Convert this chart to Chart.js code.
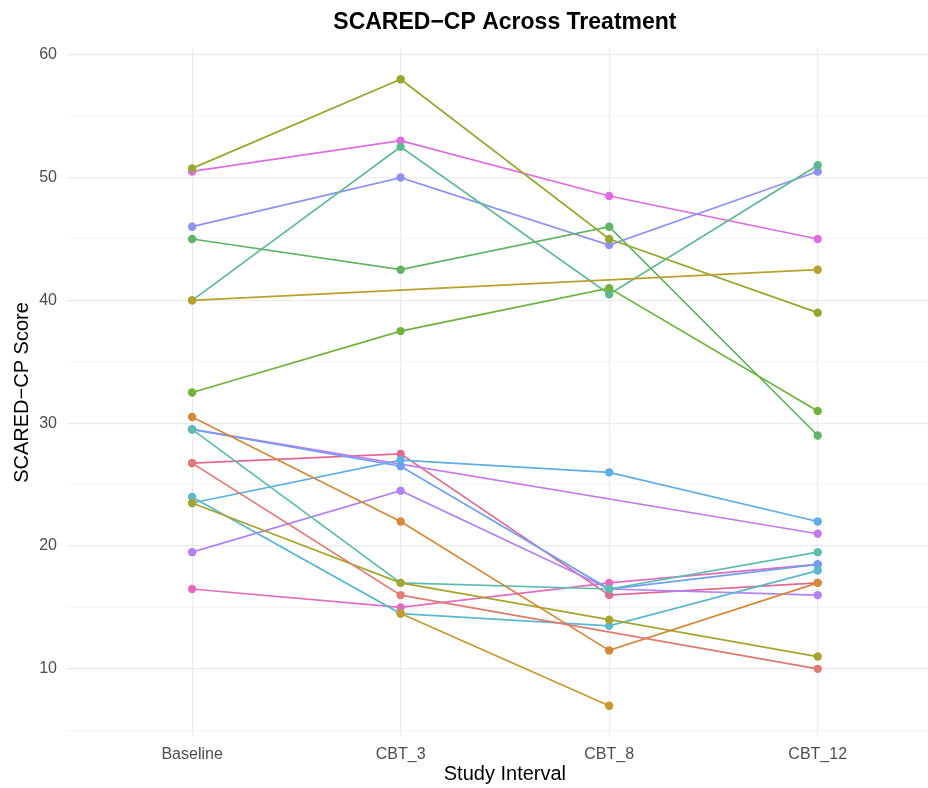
<!DOCTYPE html>
<html>
<head>
<meta charset="utf-8">
<title>SCARED-CP Across Treatment</title>
<script src="https://cdn.jsdelivr.net/npm/chart.js@4/dist/chart.umd.min.js"></script>
<style>
	html, body { margin: 0; padding: 0; background: #ffffff; overflow: hidden; }
	canvas { display: block; }
</style>
</head>
<body>
<canvas id="chart" width="947" height="788"></canvas>
<script>

// study intervals (x axis)
const intervals = ['Baseline', 'CBT_3', 'CBT_8', 'CBT_12'];

// one value per subject for each interval, null when missing
const baselineScores = [26.75, 30.5, null, 40, 23.5, 50.75, 32.5, 45, 40, 29.5, 24, 23.5, 29.5, 46, 19.5, 29.5, 50.5, 16.5, 26.75];
const cbt3Scores     = [16, 22, 14.5, null, 17, 58, 37.5, 42.5, 52.5, 17, 14.5, 27, 26.5, 50, 24.5, null, 53, 15, 27.5];
const cbt8Scores     = [null, 11.5, 7, null, 14, 45, 41, 46, 40.5, 16.5, 13.5, 26, 16.5, 44.5, 16.5, null, 48.5, 17, 16];
const cbt12Scores    = [10, 17, null, 42.5, 11, 39, 31, 29, 51, 19.5, 18, 22, 18.5, 50.5, 16, 21, 45, 18.5, 17];

const yTicks = [5, 10, 15, 20, 25, 30, 35, 40, 45, 50, 55, 60];

const subjectColors = [
	'#e17a72', '#d4883a', '#c8982c', '#b9a02a', '#a6a62e',
	'#93a92e', '#6db33c', '#5fb464', '#5fb98e', '#5cbcae',
	'#5ab8cf', '#5daee5', '#6f9ff2', '#8d92f4', '#b281f4',
	'#c977ec', '#df6be0', '#e36cc0', '#e06a8e'
];

const fontFamily = "'Liberation Sans', Arial, sans-serif";

class TreatmentChart {

	static create(target) {

		const columns = [baselineScores, cbt3Scores, cbt8Scores, cbt12Scores];

		let datasets = [];

		subjectColors.forEach((color, key) => {
			datasets[datasets.length] = {
				label: 'Subject ' + (key + 1),
				data: intervals.map((name, position) => ({x: position + 1, y: columns[position][key]})),
				borderColor: color,
				backgroundColor: color,
				pointBackgroundColor: color,
				pointBorderWidth: 0,
				pointRadius: 4.2,
				borderWidth: 1.7,
				spanGaps: true,
				tension: 0
			};
		});

		new Chart(target, {
			type: 'line',
			data: {
				datasets: datasets
			},
			options: {
				responsive: false,
				animation: {
					duration: 0
				},
				layout: {
					padding: 0
				},
				scales: {
					x: {
						type: 'linear',
						min: 0.4,
						max: 4.6,
						afterBuildTicks: function(axis) {
							axis.ticks = intervals.map((name, position) => ({value: position + 1}));
						},
						afterFit: function(axis) {
							axis.height = 51;
						},
						border: {
							display: false
						},
						grid: {
							color: '#ebebeb',
							lineWidth: 1.2,
							drawTicks: false
						},
						ticks: {
							color: '#4d4d4d',
							padding: 8,
							font: { family: fontFamily, size: 16 },
							callback: function(value) {
								return intervals[Math.round(value) - 1];
							}
						},
						title: {
							display: true,
							text: 'Study Interval',
							color: '#000000',
							padding: { top: 0, bottom: 2 },
							font: { family: fontFamily, size: 20 }
						}
					},
					y: {
						min: 4.45,
						max: 60.55,
						afterBuildTicks: function(axis) {
							axis.ticks = yTicks.map(value => ({value: value}));
						},
						afterFit: function(axis) {
							axis.width = 67;
						},
						border: {
							display: false
						},
						grid: {
							color: function(context) {
								return context.tick.value % 10 === 0 ? '#ebebeb' : '#f2f2f2';
							},
							lineWidth: function(context) {
								return context.tick.value % 10 === 0 ? 1.2 : 0.9;
							},
							drawTicks: false
						},
						ticks: {
							color: '#4d4d4d',
							padding: 10,
							font: { family: fontFamily, size: 16 },
							callback: function(value) {
								return value % 10 === 0 ? value : '';
							}
						},
						title: {
							display: true,
							text: 'SCARED\u2212CP Score',
							color: '#000000',
							padding: { top: 10, bottom: 0 },
							font: { family: fontFamily, size: 20 }
						}
					}
				},
				plugins: {
					legend: {
						display: false
					},
					tooltip: {
						enabled: false
					},
					title: {
						display: true,
						text: 'SCARED\u2212CP Across Treatment',
						color: '#000000',
						fullSize: false,
						padding: { top: 9, bottom: 11.4 },
						font: { family: fontFamily, size: 23, weight: 'bold' }
					}
				}
			}
		});

	}

}

TreatmentChart.create(document.getElementById('chart'));

</script>
</body>
</html>
